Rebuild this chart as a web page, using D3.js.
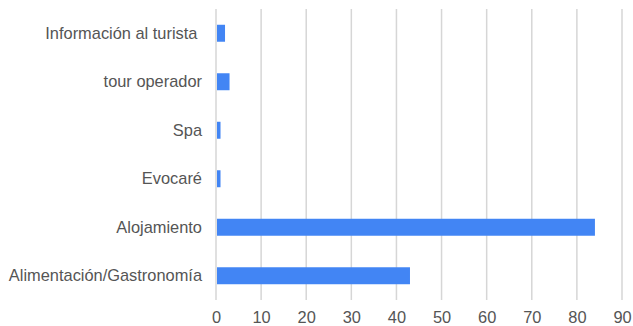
<!DOCTYPE html>
<html>
<head>
<meta charset="utf-8">
<script src="https://cdn.jsdelivr.net/npm/d3@7"></script>
<style>
  html, body { margin: 0; padding: 0; background: #fff; }
  svg { display: block; }
  text { white-space: pre; }
</style>
</head>
<body>
<svg id="chart" width="633" height="326"></svg>
<script>
// Categories (top to bottom) and their counts
const categories = [
  "Información al turista ",
  "tour operador",
  "Spa",
  "Evocaré",
  "Alojamiento",
  "Alimentación/Gastronomía"
];
const values = [2, 3, 1, 1, 84, 43];
const xTicks = [0, 10, 20, 30, 40, 50, 60, 70, 80, 90];

const font = "'Liberation Sans', Arial, sans-serif";
const textColor = "#555";
const fontSize = "16.4px";

const svg = d3.select("#chart");
const margin = { top: 9, right: 11, bottom: 26, left: 216 };
const width = 633 - margin.left - margin.right;
const height = 326 - margin.top - margin.bottom;

const x = d3.scaleLinear().domain([0, 90]).range([0, width]);
const y = d3.scaleBand().domain(categories).range([0, height]).paddingInner(0.65).paddingOuter(0.325);

const g = svg.append("g").attr("transform", `translate(${margin.left},${margin.top})`);

// vertical grid lines
g.append("g")
  .selectAll("line")
  .data(xTicks)
  .join("line")
  .attr("x1", d => x(d)).attr("x2", d => x(d))
  .attr("y1", 0).attr("y2", height)
  .attr("stroke", "#d6d6d6")
  .attr("stroke-width", 1.5);

// bars
g.append("g")
  .selectAll("rect")
  .data(categories.map((c, i) => ({ c, v: values[i] })))
  .join("rect")
  .attr("x", x(0) + 1)
  .attr("y", d => y(d.c))
  .attr("width", d => Math.max(0, x(d.v) - x(0) - 1))
  .attr("height", y.bandwidth())
  .attr("fill", "#4285f4");

// x axis labels
const xAxis = g.append("g")
  .attr("transform", `translate(0,${height})`)
  .call(d3.axisBottom(x).tickValues(xTicks).tickSize(0).tickPadding(11));
xAxis.select(".domain").remove();
xAxis.selectAll("text")
  .attr("fill", textColor)
  .style("font-family", font)
  .style("font-size", fontSize);

// y axis labels
const yAxis = g.append("g")
  .call(d3.axisLeft(y).tickSize(0).tickPadding(14));
yAxis.select(".domain").remove();
yAxis.selectAll("text")
  .attr("fill", textColor)
  .style("font-family", font)
  .style("font-size", fontSize);
</script>
</body>
</html>
